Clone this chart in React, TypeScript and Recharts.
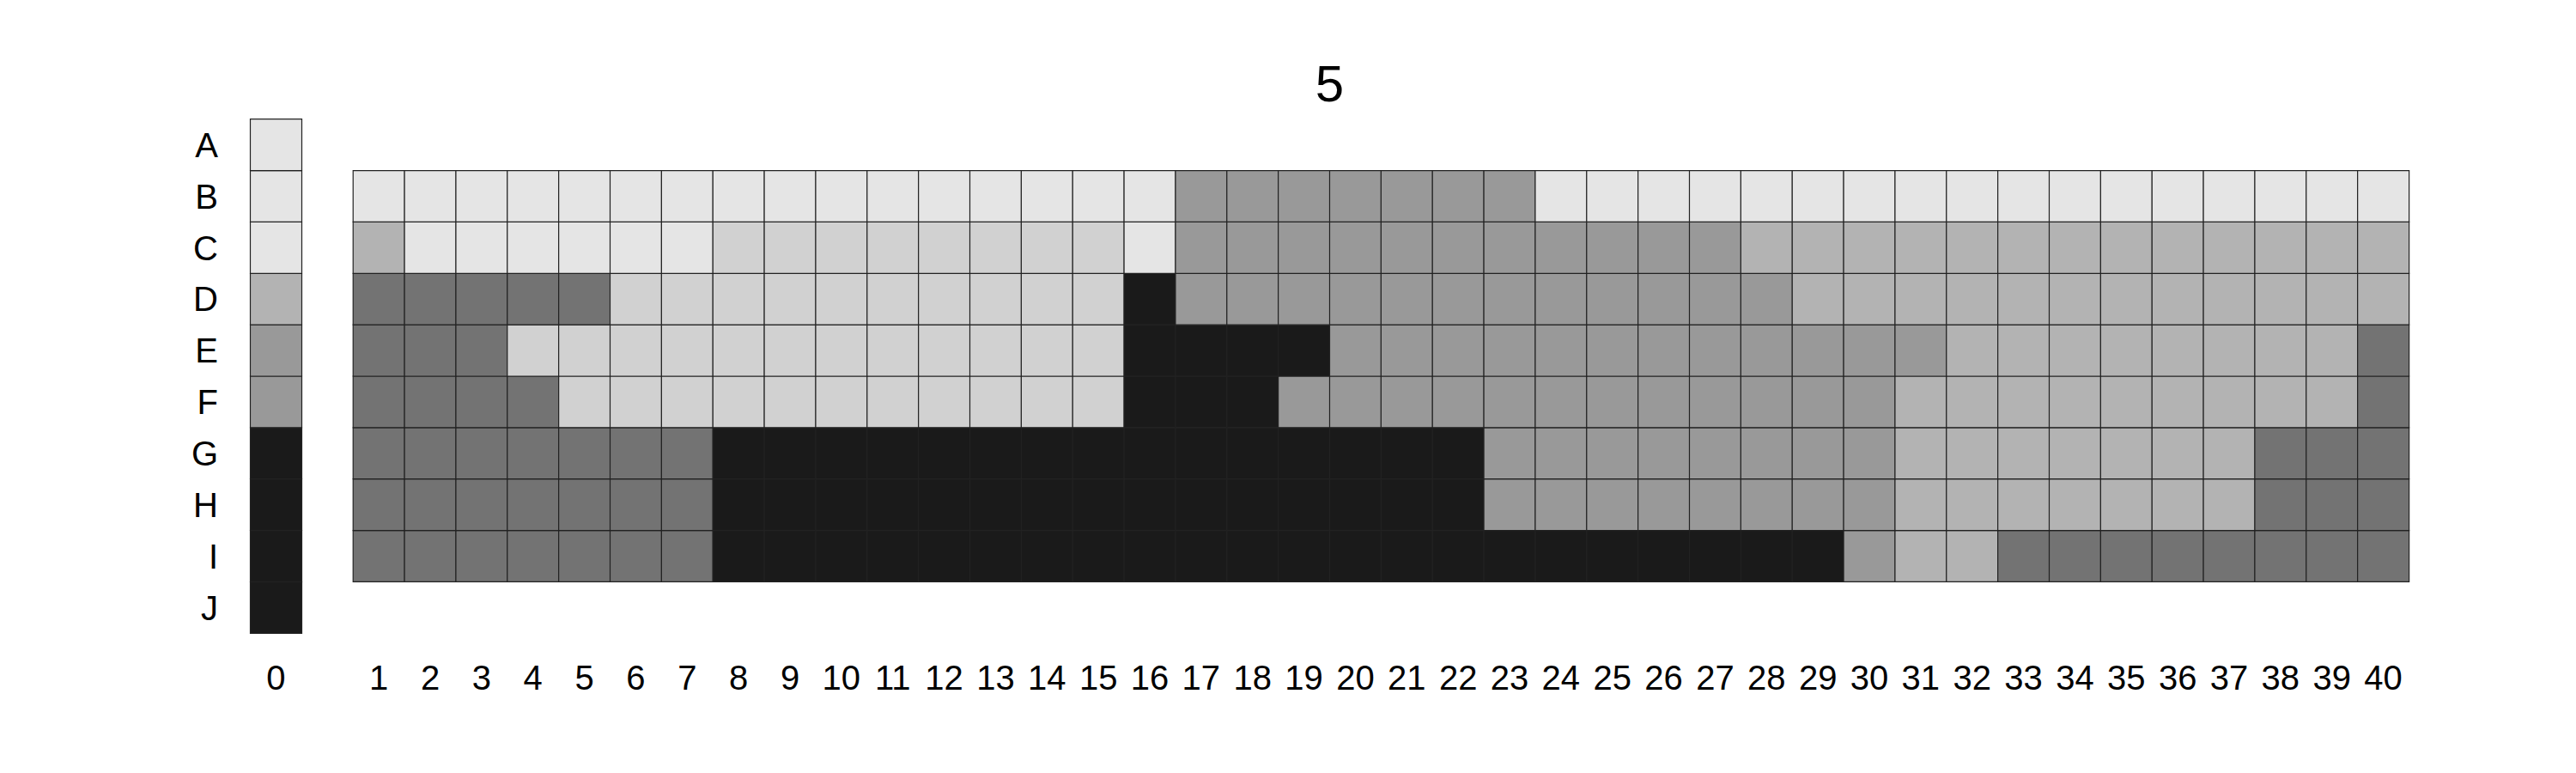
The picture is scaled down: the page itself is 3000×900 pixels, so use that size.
// Grid chart of grey levels, column 0 (rows A-J) plus columns 1-40 (rows B-I)

import React from 'react';
import { Bar, BarChart, Cell, XAxis, YAxis } from 'recharts';

const ROWS = ['A', 'B', 'C', 'D', 'E', 'F', 'G', 'H', 'I', 'J'];
const COLUMNS = ['1', '2', '3', '4', '5', '6', '7', '8', '9', '10', '11', '12', '13', '14', '15', '16', '17', '18', '19', '20',
	'21', '22', '23', '24', '25', '26', '27', '28', '29', '30', '31', '32', '33', '34', '35', '36', '37', '38', '39', '40'];

// grey level of each cell: 1 lightest .. 6 darkest
const LEVEL_COLORS: Record<number, string> = {
	1: '#e5e5e5',
	2: '#d1d1d1',
	3: '#b3b3b3',
	4: '#999999',
	5: '#737373',
	6: '#1a1a1a',
};

// column "0", rows A..J
const col0 = [1, 1, 1, 3, 4, 4, 6, 6, 6, 6];

// columns 1..40, one array per row
const rowB = [
	1, 1, 1, 1, 1, 1, 1, 1, 1, 1,
	1, 1, 1, 1, 1, 1, 4, 4, 4, 4,
	4, 4, 4, 1, 1, 1, 1, 1, 1, 1,
	1, 1, 1, 1, 1, 1, 1, 1, 1, 1,
];
const rowC = [
	3, 1, 1, 1, 1, 1, 1, 2, 2, 2,
	2, 2, 2, 2, 2, 1, 4, 4, 4, 4,
	4, 4, 4, 4, 4, 4, 4, 3, 3, 3,
	3, 3, 3, 3, 3, 3, 3, 3, 3, 3,
];
const rowD = [
	5, 5, 5, 5, 5, 2, 2, 2, 2, 2,
	2, 2, 2, 2, 2, 6, 4, 4, 4, 4,
	4, 4, 4, 4, 4, 4, 4, 4, 3, 3,
	3, 3, 3, 3, 3, 3, 3, 3, 3, 3,
];
const rowE = [
	5, 5, 5, 2, 2, 2, 2, 2, 2, 2,
	2, 2, 2, 2, 2, 6, 6, 6, 6, 4,
	4, 4, 4, 4, 4, 4, 4, 4, 4, 4,
	4, 3, 3, 3, 3, 3, 3, 3, 3, 5,
];
const rowF = [
	5, 5, 5, 5, 2, 2, 2, 2, 2, 2,
	2, 2, 2, 2, 2, 6, 6, 6, 4, 4,
	4, 4, 4, 4, 4, 4, 4, 4, 4, 4,
	3, 3, 3, 3, 3, 3, 3, 3, 3, 5,
];
const rowG = [
	5, 5, 5, 5, 5, 5, 5, 6, 6, 6,
	6, 6, 6, 6, 6, 6, 6, 6, 6, 6,
	6, 6, 4, 4, 4, 4, 4, 4, 4, 4,
	3, 3, 3, 3, 3, 3, 3, 5, 5, 5,
];
const rowH = [
	5, 5, 5, 5, 5, 5, 5, 6, 6, 6,
	6, 6, 6, 6, 6, 6, 6, 6, 6, 6,
	6, 6, 4, 4, 4, 4, 4, 4, 4, 4,
	3, 3, 3, 3, 3, 3, 3, 5, 5, 5,
];
const rowI = [
	5, 5, 5, 5, 5, 5, 5, 6, 6, 6,
	6, 6, 6, 6, 6, 6, 6, 6, 6, 6,
	6, 6, 6, 6, 6, 6, 6, 6, 6, 4,
	3, 3, 5, 5, 5, 5, 5, 5, 5, 5,
];

const gridRows: Record<string, number[]> = { B: rowB, C: rowC, D: rowD, E: rowE, F: rowF, G: rowG, H: rowH, I: rowI };

type Entry = { col: string; lv: Record<string, number>; [k: string]: unknown };

// every cell is one unit tall, stacked J (bottom) .. A (top); level 0 = invisible spacer
const data: Entry[] = [];
{
	const e: Entry = { col: '0', lv: {} };
	ROWS.forEach((r, i) => {
		e[r] = 1;
		e.lv[r] = col0[i];
	});
	data.push(e);
	data.push({ col: '', lv: {} });
	COLUMNS.forEach((c, j) => {
		const d: Entry = { col: c, lv: { J: 0 }, J: 1 };
		Object.entries(gridRows).forEach(([r, vals]) => {
			d[r] = 1;
			d.lv[r] = vals[j];
		});
		data.push(d);
	});
}

const Y_TICKS = [0.5, 1.5, 2.5, 3.5, 4.5, 5.5, 6.5, 7.5, 8.5, 9.5];
const FONT = '"Liberation Sans", Arial, Helvetica, sans-serif';

export default function App() {
	const stackOrder = [...ROWS].reverse();
	return (
		<div style={{ position: 'absolute', left: 0, top: 0, width: 3000, height: 900, background: '#fff' }}>
			<svg width={3000} height={900} style={{ position: 'absolute', left: 0, top: 0 }}>
				<text x={1548.5} y={118} textAnchor="middle" fontSize={60} fontFamily={FONT} fill="#000">
					5
				</text>
			</svg>
			<div style={{ position: 'absolute', left: 0, top: 0 }}>
				<BarChart
					width={3000}
					height={900}
					data={data}
					barCategoryGap={0}
					barGap={0}
					margin={{ top: 138.7, right: 194.5, bottom: 102.7, left: 231.5 }}
				>
					<XAxis
						dataKey="col"
						type="category"
						interval={0}
						axisLine={false}
						tickLine={false}
						tickSize={0}
						tickMargin={37.5}
						height={60}
						tick={{ fontSize: 40, fill: '#000', fontFamily: FONT }}
					/>
					<YAxis
						type="number"
						domain={[0, 10]}
						ticks={Y_TICKS}
						tickFormatter={(v: number) => ROWS[9 - Math.floor(v)]}
						axisLine={false}
						tickLine={false}
						tickSize={0}
						tickMargin={37.5}
						width={60}
						tick={{ fontSize: 40, fill: '#000', fontFamily: FONT }}
					/>
					{stackOrder.map((r) => (
						<Bar key={r} dataKey={r} stackId="g" isAnimationActive={false}>
							{data.map((d, i) => {
								const lv = d.lv[r];
								const visible = lv !== undefined && lv > 0;
								return (
									<Cell
										key={i}
										fill={visible ? LEVEL_COLORS[lv] : 'none'}
										stroke={visible ? '#222' : 'none'}
										strokeWidth={1.2}
									/>
								);
							})}
						</Bar>
					))}
				</BarChart>
			</div>
		</div>
	);
}
